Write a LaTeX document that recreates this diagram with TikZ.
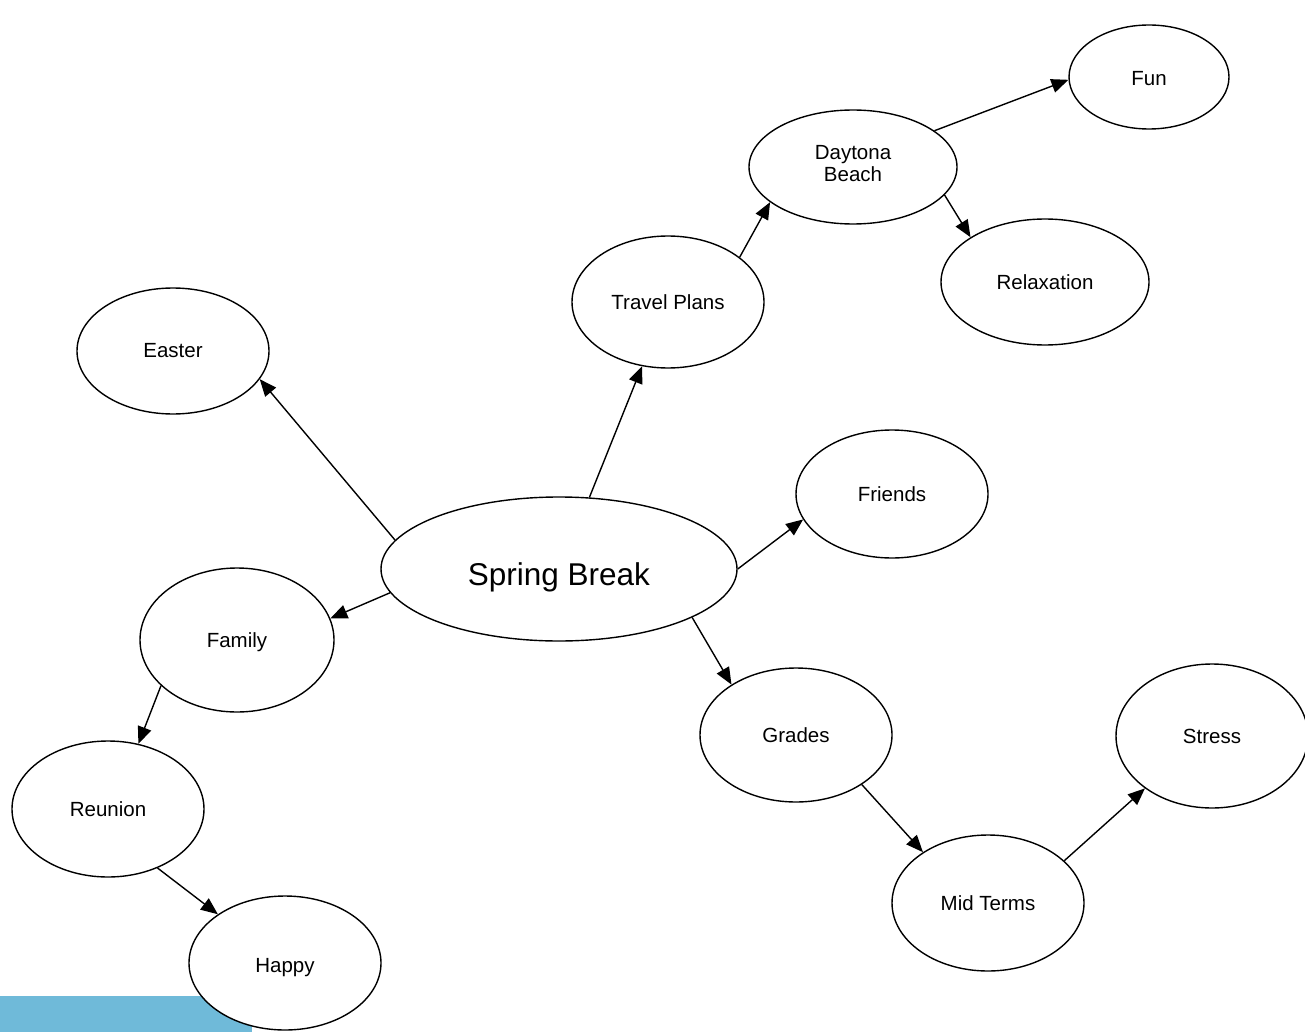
\documentclass[tikz,border=0pt]{standalone}
\usepackage{fontspec}
\setmainfont{Liberation Sans}
\usetikzlibrary{shapes.geometric,arrows.meta}
\definecolor{barblue}{HTML}{6FBAD9}
\begin{document}
\begin{tikzpicture}[x=1pt,y=-1pt,
  bub/.style={ellipse,draw,line width=1.4pt,fill=white,inner sep=0pt,
    font=\fontsize{20.5}{24}\selectfont,align=center},
  lower/.style={text height=#1,text depth=4pt},
  conn/.style={line width=1.4pt,-{Triangle[length=17pt,width=14pt]}}]
\useasboundingbox (0,0) rectangle (1305,1032);
\fill[barblue] (0,996) rectangle (252,1032);
\node[bub,minimum width=356pt,minimum height=144pt,font=\fontsize{31.5}{36}\selectfont,text height=39pt,text depth=7pt] (sb) at (559,569) {Spring Break};
\node[bub,minimum width=192pt,minimum height=126pt,lower=17pt] (easter) at (173,351) {Easter};
\node[bub,minimum width=192pt,minimum height=132pt] (travel) at (668,302) {Travel Plans};
\node[bub,minimum width=208pt,minimum height=114pt,text depth=7pt] (daytona) at (853,167) {\shortstack{Daytona\\Beach}};
\node[bub,minimum width=160pt,minimum height=104pt,lower=21pt] (fun) at (1149,77) {Fun};
\node[bub,minimum width=208pt,minimum height=126pt] (relax) at (1045,282) {Relaxation};
\node[bub,minimum width=192pt,minimum height=128pt] (friends) at (892,494) {Friends};
\node[bub,minimum width=194pt,minimum height=144pt,lower=19pt] (family) at (237,640) {Family};
\node[bub,minimum width=192pt,minimum height=136pt] (reunion) at (108,809) {Reunion};
\node[bub,minimum width=192pt,minimum height=134pt,lower=23pt] (happy) at (285,963) {Happy};
\node[bub,minimum width=192pt,minimum height=134pt] (grades) at (796,735) {Grades};
\node[bub,minimum width=192pt,minimum height=136pt] (mid) at (988,903) {Mid Terms};
\node[bub,minimum width=192pt,minimum height=144pt] (stress) at (1212,736) {Stress};
\draw[conn] (sb.170.4) -- (easter.-18);
\draw[conn] (sb.67.4) -- (travel.-112.2);
\draw[conn] (sb.0.3) -- (friends.-164);
\draw[conn] (sb.188) -- (family.13.5);
\draw[conn] (sb.-20.9) -- (grades.142.9);
\draw[conn] (travel.32.7) -- (daytona.-157.7);
\draw[conn] (daytona.24.1) -- (fun.182.8);
\draw[conn] (daytona.-17.5) -- (relax.149);
\draw[conn] (family.-149) -- (reunion.65.3);
\draw[conn] (reunion.-50.2) -- (happy.144.8);
\draw[conn] (grades.-37.1) -- (mid.142.9);
\draw[conn] (mid.29.7) -- (stress.-142);
\end{tikzpicture}
\end{document}
